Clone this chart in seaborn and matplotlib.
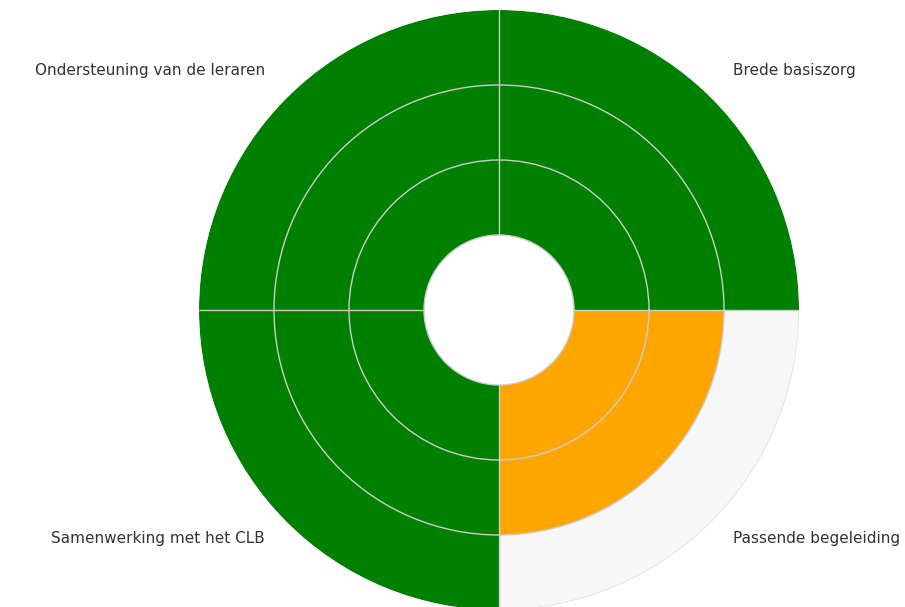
import numpy as np
import matplotlib
matplotlib.use("Agg")
import matplotlib.pyplot as plt
import seaborn as sns

# domains, counter-clockwise starting at 3 o'clock
domains = ["Brede basiszorg", "Ondersteuning van de leraren",
           "Samenwerking met het CLB", "Passende begeleiding"]
scores = [3, 3, 3, 2]          # level reached (max 3)
max_score = 3
colors = ["#008000", "#008000", "#008000", "#FFA500"]

sns.set_style("white")
plt.rcParams["font.family"] = ["DejaVu Sans"]

fig = plt.figure(figsize=(9.05, 6.07), dpi=100)
ax = fig.add_axes([199 / 905, -3 / 607, 600 / 905, 600 / 607], projection="polar")

n = len(domains)
width = 2 * np.pi / n
theta = np.arange(n) * width + width / 2

# grey background up to the maximum, then the scores on top
ax.bar(theta, [max_score] * n, width=width, bottom=0, color="#f7f7f7",
       edgecolor="#dddddd", linewidth=1, zorder=1)
ax.bar(theta, scores, width=width, bottom=0, color=colors,
       linewidth=0, zorder=2)

# hole in the middle
ax.set_rorigin(-1)
ax.set_ylim(0, max_score)
ax.set_yticks([1, 2])
ax.set_yticklabels([])
ax.set_xticks(np.arange(n) * width)
ax.set_xticklabels([])
ax.grid(True, color="#cccccc", linewidth=1)
ax.set_axisbelow(False)
for gl in ax.xaxis.get_gridlines() + ax.yaxis.get_gridlines():
    gl.set_zorder(3)
ax.spines["polar"].set_visible(False)
ax.spines["inner"].set_visible(True)
ax.spines["inner"].set_color("#cccccc")
ax.spines["inner"].set_linewidth(1)

txt = dict(fontsize=11, color="#333333", va="center")
fig.text(733 / 905, 1 - 70 / 607, domains[0], ha="left", **txt)
fig.text(265 / 905, 1 - 70 / 607, domains[1], ha="right", **txt)
fig.text(265 / 905, 1 - 538 / 607, domains[2], ha="right", **txt)
fig.text(733 / 905, 1 - 538 / 607, domains[3], ha="left", **txt)

fig.savefig("out.png", dpi=100)
